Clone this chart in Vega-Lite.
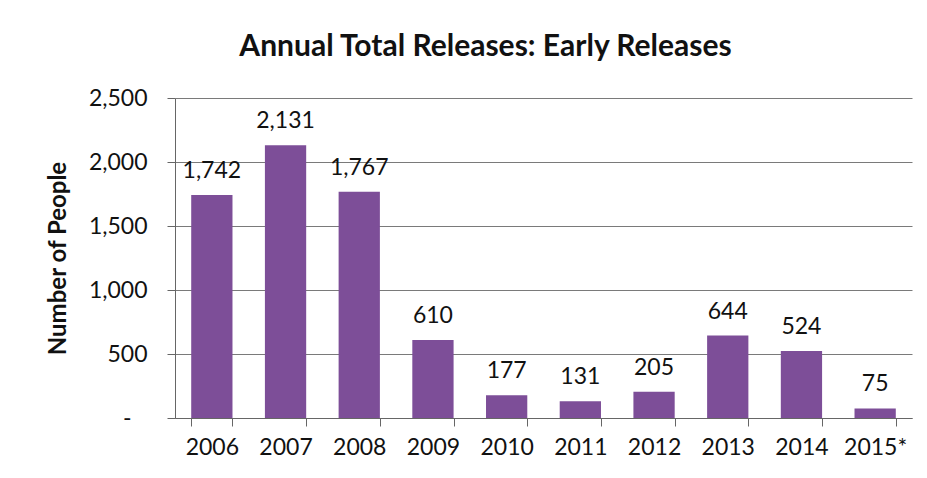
{
  "$schema": "https://vega.github.io/schema/vega-lite/v6.json",
  "autosize": {"type": "none"},
  "width": 737,
  "height": 320,
  "padding": {"left": 175, "top": 98, "right": 15, "bottom": 60},
  "background": "white",
  "title": {
    "text": "Annual Total Releases: Early Releases",
    "font": "Lato",
    "fontSize": 30,
    "fontWeight": "bold",
    "color": "#111111",
    "anchor": "middle",
    "dx": -58,
    "offset": 25
  },
  "data": {
    "values": [
      {"year": "2006", "people": 1742},
      {"year": "2007", "people": 2131},
      {"year": "2008", "people": 1767},
      {"year": "2009", "people": 610},
      {"year": "2010", "people": 177},
      {"year": "2011", "people": 131},
      {"year": "2012", "people": 205},
      {"year": "2013", "people": 644},
      {"year": "2014", "people": 524},
      {"year": "2015*", "people": 75}
    ]
  },
  "config": {
    "view": {"stroke": null},
    "axis": {"labelFont": "Lato", "titleFont": "Lato", "labelColor": "#111111", "titleColor": "#111111"}
  },
  "encoding": {
    "x": {
      "field": "year",
      "type": "nominal",
      "sort": null,
      "title": null,
      "scale": {"paddingInner": 0.44, "paddingOuter": 0.22},
      "axis": {
        "labelAngle": 0,
        "labelFontSize": 23,
        "labelPadding": 10,
        "tickBand": "extent",
        "tickSize": 8,
        "tickColor": "#666666",
        "domainColor": "#666666",
        "grid": false
      }
    },
    "y": {
      "field": "people",
      "type": "quantitative",
      "title": "Number of People",
      "scale": {"domain": [0, 2500]},
      "axis": {
        "values": [0, 500, 1000, 1500, 2000, 2500],
        "labelExpr": "datum.value == 0 ? '-' : format(datum.value, ',')",
        "labelFontSize": 23,
        "labelPadding": {"condition": {"test": "datum.value == 0", "value": 36}, "value": 20},
        "tickSize": 8,
        "tickColor": "#666666",
        "domainColor": "#666666",
        "grid": true,
        "gridColor": "#7a7a7a",
        "gridWidth": 1,
        "titleFontSize": 24,
        "titleFontWeight": "bold",
        "titlePadding": 18
      }
    }
  },
  "layer": [
    {
      "mark": {"type": "bar", "color": "#7d4e98"}
    },
    {
      "mark": {"type": "text", "font": "Lato", "fontSize": 23, "baseline": "bottom", "dy": -12, "color": "#111111"},
      "encoding": {
        "text": {"field": "people", "type": "quantitative", "format": ","}
      }
    }
  ]
}
